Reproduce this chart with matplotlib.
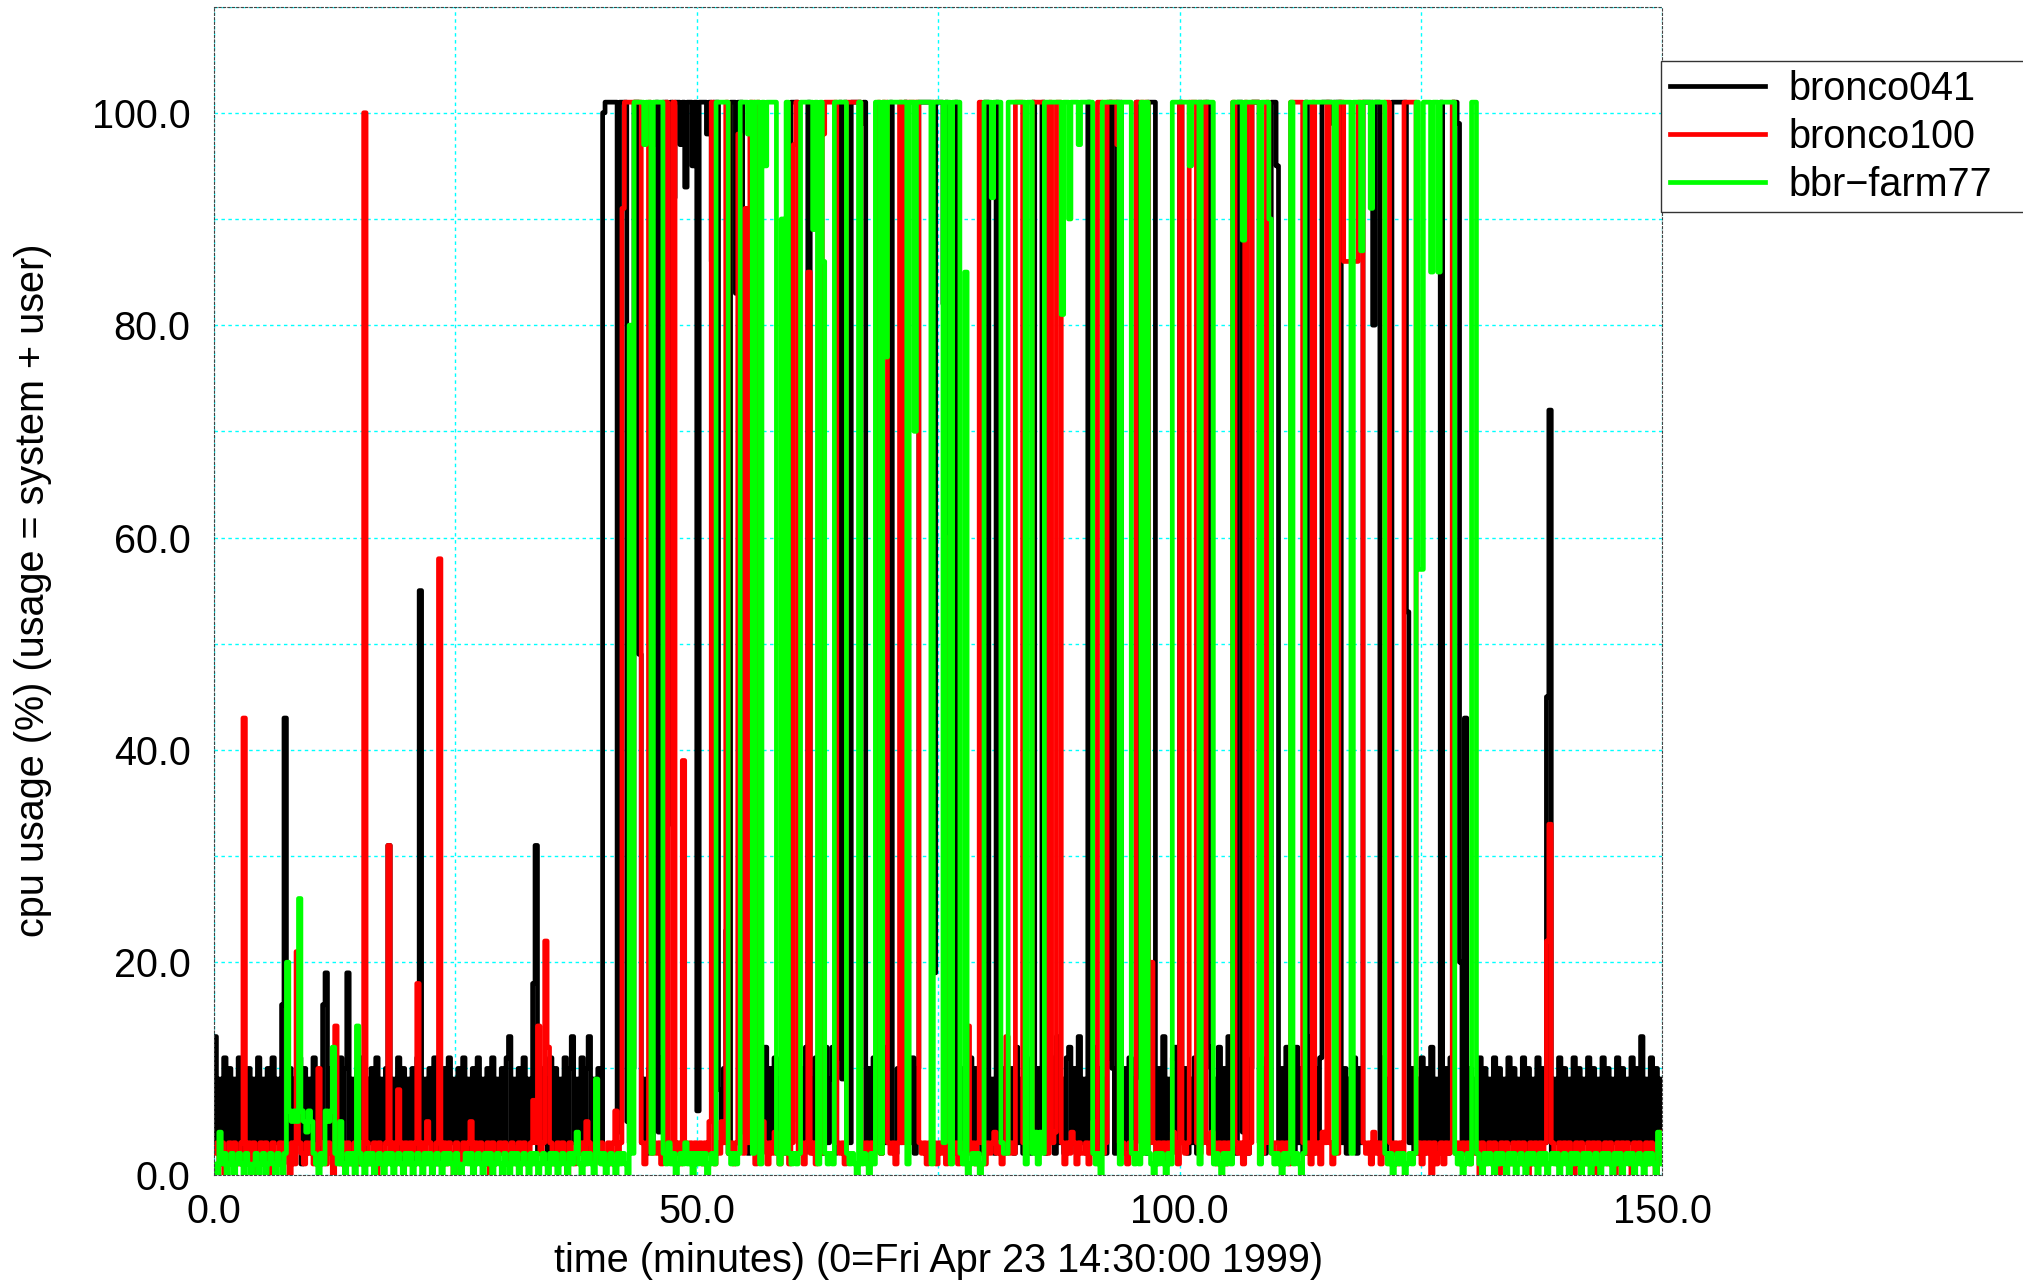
import numpy as np
import matplotlib
matplotlib.use("Agg")
import matplotlib.pyplot as plt
from matplotlib.ticker import MultipleLocator, FormatStrFormatter

plt.rcParams['font.family'] = ['Liberation Sans', 'DejaVu Sans']

# one sample every 15 s, minutes since Fri Apr 23 14:30:00 1999
minutes = np.arange(601) * 0.25

bronco041 = [
    13, 3, 9, 2, 11, 1, 10, 3, 9, 2, 11, 1, 9, 3, 10, 2, 9, 1, 11, 3,
    9, 2, 10, 1, 11, 3, 9, 2, 16, 43, 3, 10, 2, 9, 3, 11, 1, 10, 2, 9,
    3, 11, 2, 9, 1, 16, 19, 3, 10, 2, 9, 3, 11, 1, 10, 19, 2, 9, 3, 10,
    1, 11, 2, 9, 3, 10, 2, 11, 1, 9, 3, 10, 31, 2, 9, 3, 11, 1, 10, 2,
    9, 3, 10, 1, 11, 55, 2, 9, 3, 10, 2, 11, 1, 9, 3, 10, 2, 11, 3, 9,
    1, 10, 2, 11, 3, 9, 2, 10, 1, 11, 3, 9, 2, 10, 3, 11, 1, 9, 2, 10,
    3, 11, 13, 2, 9, 3, 10, 1, 11, 2, 9, 3, 18, 31, 2, 10, 3, 9, 1, 11,
    2, 10, 3, 9, 2, 11, 1, 10, 13, 3, 9, 2, 11, 3, 10, 13, 2, 9, 3, 10,
    3, 100, 101, 101, 101, 101, 101, 4, 101, 101, 101, 5, 3, 10, 101, 101, 49, 3, 9, 2,
    10, 3, 97, 101, 4, 11, 101, 101, 33, 101, 92, 101, 101, 97, 101, 93, 101, 101, 95, 101,
    6, 101, 101, 101, 98, 101, 86, 101, 101, 8, 3, 10, 23, 2, 101, 101, 83, 101, 101, 4,
    10, 2, 12, 3, 11, 2, 9, 3, 12, 2, 10, 3, 11, 2, 9, 3, 10, 2, 95, 101,
    101, 101, 5, 10, 2, 12, 101, 9, 2, 11, 3, 10, 2, 12, 3, 9, 12, 2, 11, 101,
    9, 101, 10, 3, 101, 101, 101, 101, 99, 101, 3, 10, 2, 11, 3, 9, 2, 12, 3, 10,
    101, 3, 2, 10, 3, 12, 101, 9, 3, 11, 2, 10, 101, 101, 101, 101, 101, 101, 19, 101,
    101, 101, 82, 101, 3, 9, 2, 101, 3, 10, 2, 9, 3, 11, 2, 10, 3, 9, 2, 101,
    101, 3, 9, 2, 101, 3, 10, 2, 9, 3, 10, 2, 12, 3, 9, 2, 11, 3, 2, 101,
    4, 10, 3, 101, 2, 10, 3, 11, 2, 13, 3, 9, 2, 11, 12, 3, 10, 2, 13, 3,
    9, 2, 101, 3, 12, 2, 10, 3, 9, 2, 11, 101, 10, 2, 101, 101, 3, 10, 2, 11,
    3, 9, 101, 12, 3, 10, 2, 101, 101, 101, 3, 10, 2, 13, 3, 9, 2, 11, 12, 3,
    101, 3, 10, 2, 9, 3, 11, 2, 101, 3, 10, 101, 12, 3, 9, 2, 12, 3, 10, 2,
    13, 3, 9, 2, 101, 101, 4, 11, 2, 10, 101, 101, 101, 3, 10, 2, 11, 3, 101, 101,
    95, 3, 10, 2, 12, 3, 9, 2, 12, 3, 10, 2, 101, 3, 13, 2, 10, 3, 11, 101,
    101, 101, 101, 99, 101, 101, 101, 3, 10, 2, 9, 3, 11, 2, 10, 3, 101, 101, 101, 101,
    80, 101, 101, 3, 11, 2, 9, 3, 101, 101, 101, 101, 101, 101, 53, 3, 10, 2, 9, 3,
    11, 2, 10, 3, 12, 2, 9, 3, 101, 3, 10, 2, 11, 101, 101, 99, 20, 3, 43, 2,
    10, 3, 9, 2, 11, 3, 10, 2, 9, 3, 11, 1, 10, 3, 9, 2, 11, 3, 10, 2,
    9, 3, 11, 2, 10, 1, 9, 3, 11, 2, 10, 3, 45, 72, 2, 9, 3, 11, 2, 10,
    3, 9, 2, 11, 3, 10, 1, 9, 3, 11, 2, 10, 3, 9, 2, 11, 3, 10, 2, 9,
    3, 11, 1, 10, 2, 9, 3, 11, 2, 10, 3, 13, 2, 9, 3, 11, 2, 10, 3, 9,
    9,
]

bronco100 = [
    2, 3, 1, 3, 0, 2, 3, 1, 3, 2, 1, 3, 43, 2, 3, 1, 3, 0, 2, 3,
    1, 3, 2, 0, 3, 1, 2, 3, 1, 3, 2, 0, 3, 1, 21, 3, 2, 1, 3, 2,
    3, 1, 2, 10, 3, 2, 1, 3, 2, 0, 14, 3, 1, 3, 2, 3, 1, 2, 3, 1,
    3, 2, 100, 3, 1, 2, 3, 0, 3, 2, 1, 3, 31, 2, 3, 1, 8, 3, 2, 3,
    1, 3, 2, 3, 18, 1, 3, 2, 5, 3, 1, 2, 3, 58, 2, 3, 1, 3, 2, 0,
    3, 2, 1, 3, 2, 3, 5, 1, 3, 2, 3, 1, 2, 3, 0, 3, 1, 2, 3, 2,
    3, 1, 2, 3, 2, 1, 3, 2, 3, 1, 2, 3, 7, 3, 14, 2, 3, 22, 12, 3,
    1, 2, 3, 1, 3, 2, 0, 3, 2, 1, 3, 2, 3, 1, 5, 3, 2, 1, 3, 2,
    3, 1, 2, 3, 1, 3, 6, 2, 3, 91, 101, 101, 101, 101, 101, 101, 101, 3, 1, 3,
    101, 2, 3, 2, 3, 1, 3, 101, 2, 3, 101, 2, 3, 1, 39, 3, 2, 3, 1, 3,
    2, 3, 1, 3, 2, 5, 101, 1, 3, 2, 5, 3, 101, 2, 3, 1, 3, 98, 3, 2,
    91, 3, 101, 101, 1, 101, 2, 5, 3, 1, 3, 2, 4, 3, 1, 3, 2, 3, 1, 3,
    97, 101, 2, 3, 1, 3, 85, 2, 3, 1, 3, 2, 98, 101, 101, 101, 101, 101, 3, 2,
    3, 1, 101, 101, 101, 101, 101, 101, 3, 2, 3, 1, 3, 2, 4, 101, 2, 101, 101, 3,
    2, 3, 1, 3, 101, 3, 101, 101, 101, 101, 101, 101, 3, 2, 3, 1, 3, 2, 3, 1,
    3, 2, 3, 1, 60, 3, 2, 3, 1, 3, 2, 3, 14, 2, 3, 1, 3, 101, 3, 1,
    3, 2, 3, 4, 2, 3, 1, 3, 13, 2, 3, 2, 101, 101, 101, 3, 2, 3, 3, 101,
    101, 101, 101, 101, 3, 2, 101, 3, 4, 101, 101, 3, 1, 3, 2, 4, 3, 1, 3, 2,
    2, 3, 1, 3, 5, 2, 101, 101, 2, 3, 101, 101, 101, 101, 97, 3, 3, 2, 1, 3,
    3, 2, 101, 101, 101, 101, 101, 3, 20, 3, 1, 3, 2, 3, 1, 3, 2, 4, 3, 1,
    101, 3, 2, 3, 101, 101, 101, 3, 2, 3, 101, 3, 2, 4, 3, 1, 3, 2, 3, 1,
    3, 2, 101, 3, 2, 3, 1, 101, 2, 3, 101, 101, 101, 3, 2, 3, 101, 3, 2, 3,
    3, 1, 3, 2, 3, 1, 101, 101, 101, 101, 101, 3, 2, 3, 1, 101, 2, 3, 1, 4,
    3, 101, 3, 1, 3, 2, 101, 101, 86, 86, 86, 86, 86, 86, 101, 101, 3, 2, 3, 1,
    4, 2, 3, 1, 3, 101, 101, 3, 2, 3, 1, 3, 2, 101, 101, 101, 101, 101, 2, 3,
    1, 3, 2, 3, 0, 3, 1, 2, 3, 1, 3, 2, 3, 101, 2, 3, 1, 3, 2, 3,
    1, 3, 2, 3, 0, 3, 1, 2, 3, 1, 3, 2, 0, 3, 1, 3, 2, 1, 3, 2,
    3, 1, 3, 2, 0, 3, 1, 3, 2, 3, 1, 3, 22, 33, 3, 2, 1, 3, 2, 3,
    1, 3, 2, 0, 3, 1, 3, 2, 1, 3, 2, 3, 0, 3, 1, 2, 3, 1, 3, 2,
    0, 3, 1, 3, 2, 3, 1, 0, 3, 2, 3, 1, 2, 3, 1, 3, 2, 0, 3, 4,
    4,
]

bbr_farm77 = [
    1, 0, 4, 1, 2, 0, 1, 2, 0, 1, 2, 1, 0, 2, 1, 0, 1, 2, 0, 1,
    2, 0, 1, 2, 1, 0, 2, 1, 0, 2, 20, 6, 5, 6, 5, 26, 6, 5, 4, 6,
    5, 2, 1, 0, 2, 1, 6, 5, 6, 12, 2, 1, 5, 1, 0, 2, 1, 2, 0, 14,
    2, 1, 0, 2, 1, 2, 0, 1, 2, 1, 0, 2, 1, 2, 0, 1, 2, 1, 0, 2,
    1, 2, 0, 1, 2, 1, 0, 2, 1, 2, 0, 1, 2, 1, 0, 2, 1, 2, 1, 0,
    2, 1, 0, 1, 2, 1, 2, 0, 1, 2, 1, 0, 2, 1, 2, 0, 1, 2, 1, 0,
    2, 1, 0, 2, 1, 2, 0, 1, 2, 1, 0, 2, 1, 2, 0, 1, 2, 1, 0, 2,
    1, 2, 0, 1, 2, 1, 0, 2, 1, 2, 4, 1, 0, 2, 1, 2, 1, 0, 9, 2,
    1, 2, 0, 1, 2, 1, 0, 2, 1, 2, 1, 0, 80, 2, 101, 101, 101, 101, 97, 101,
    101, 2, 101, 101, 101, 101, 2, 1, 3, 1, 2, 0, 1, 2, 1, 3, 1, 2, 0, 2,
    1, 2, 1, 2, 0, 1, 2, 1, 101, 101, 101, 101, 101, 2, 1, 2, 1, 2, 101, 101,
    101, 98, 101, 2, 101, 101, 1, 101, 95, 101, 101, 101, 101, 2, 1, 90, 2, 101, 2, 1,
    2, 1, 2, 101, 101, 101, 101, 101, 89, 101, 1, 101, 86, 2, 1, 2, 1, 101, 101, 101,
    101, 101, 2, 1, 2, 1, 0, 101, 1, 2, 1, 0, 2, 1, 101, 101, 2, 101, 77, 101,
    101, 101, 101, 101, 101, 101, 101, 1, 101, 101, 70, 101, 101, 101, 101, 101, 101, 1, 101, 101,
    101, 101, 3, 101, 101, 1, 101, 101, 101, 2, 1, 85, 0, 1, 2, 1, 2, 0, 1, 101,
    101, 101, 92, 101, 101, 101, 3, 2, 2, 101, 101, 101, 101, 101, 101, 101, 1, 101, 101, 2,
    4, 1, 4, 2, 101, 101, 101, 101, 101, 101, 101, 81, 101, 101, 90, 101, 101, 101, 97, 101,
    101, 101, 101, 101, 2, 1, 2, 0, 101, 101, 101, 101, 101, 101, 101, 1, 101, 101, 101, 101,
    2, 1, 2, 1, 101, 2, 101, 2, 1, 0, 2, 1, 2, 1, 0, 2, 1, 101, 101, 101,
    101, 101, 101, 101, 95, 101, 101, 101, 1, 101, 101, 101, 101, 101, 1, 2, 1, 0, 2, 1,
    2, 1, 101, 101, 101, 101, 88, 101, 101, 101, 101, 101, 101, 1, 101, 101, 101, 90, 2, 1,
    2, 1, 0, 2, 1, 2, 101, 1, 2, 1, 0, 2, 101, 101, 101, 101, 101, 101, 101, 101,
    101, 101, 101, 101, 2, 101, 101, 101, 101, 101, 101, 2, 101, 101, 101, 87, 101, 101, 101, 91,
    101, 101, 101, 101, 101, 2, 1, 2, 0, 1, 2, 1, 2, 0, 1, 2, 1, 2, 101, 57,
    57, 101, 101, 101, 85, 101, 101, 85, 101, 101, 101, 101, 101, 101, 2, 1, 2, 0, 1, 2,
    1, 101, 101, 2, 1, 0, 2, 1, 2, 1, 0, 2, 1, 2, 1, 0, 2, 1, 2, 0,
    1, 2, 1, 0, 2, 1, 2, 1, 0, 2, 1, 2, 0, 1, 2, 1, 2, 0, 1, 2,
    1, 0, 2, 1, 2, 1, 0, 2, 1, 2, 0, 1, 2, 1, 0, 2, 1, 2, 1, 0,
    2, 1, 2, 0, 1, 2, 1, 2, 0, 1, 2, 1, 0, 2, 1, 2, 1, 0, 4, 2,
    1,
]

hosts = ['bronco041', 'bronco100', 'bbr\u2212farm77']
colors = ['#000000', '#ff0000', '#00ff00']

fig = plt.figure(figsize=(20.24, 12.83), dpi=100)
ax = fig.add_axes([214 / 2024, 1 - 1174.6 / 1283, 1448.3 / 2024, 1168 / 1283])

for vals, name, col in zip([bronco041, bronco100, bbr_farm77], hosts, colors):
    ax.plot(minutes, vals, drawstyle='steps-post', color=col, lw=3.4, label=name)

ax.set_xlim(0, 150)
ax.set_ylim(0, 110)
ax.xaxis.set_major_locator(MultipleLocator(50))
ax.xaxis.set_minor_locator(MultipleLocator(25))
ax.yaxis.set_minor_locator(MultipleLocator(10))
ax.set_yticks([0, 20, 40, 60, 80, 100])
ax.xaxis.set_major_formatter(FormatStrFormatter('%.1f'))
ax.yaxis.set_major_formatter(FormatStrFormatter('%.1f'))

ax.set_axisbelow(True)
ax.grid(True, which='both', color='#00ffff', linestyle=(0, (2.5, 2.5)), lw=1.0)
for s in ax.spines.values():
    s.set_linestyle((0, (2, 2)))
    s.set_linewidth(0.8)
    s.set_color('#444444')

ax.tick_params(which='both', length=0, labelsize=28.5)
ax.tick_params(axis='y', pad=17)
ax.tick_params(axis='x', pad=13.5)

ax.set_xlabel('time (minutes) (0=Fri Apr 23 14:30:00 1999)', fontsize=28.5)
ax.set_ylabel('cpu usage (%) (usage = system + user)', fontsize=28.5)
ax.xaxis.set_label_coords(0.5, -0.058)
ax.yaxis.set_label_coords(-0.112, 0.5)

fig.legend(loc='upper left', bbox_to_anchor=(1661 / 2024, 0.5, 0.19, 1 - 61 / 1283 - 0.5),
           mode='expand', fontsize=28.5, frameon=True, fancybox=False, framealpha=1,
           edgecolor='#333333', handlelength=2.4, handletextpad=0.6,
           borderpad=0.22, labelspacing=0.25, borderaxespad=0)

fig.savefig('out.png', dpi=100)
